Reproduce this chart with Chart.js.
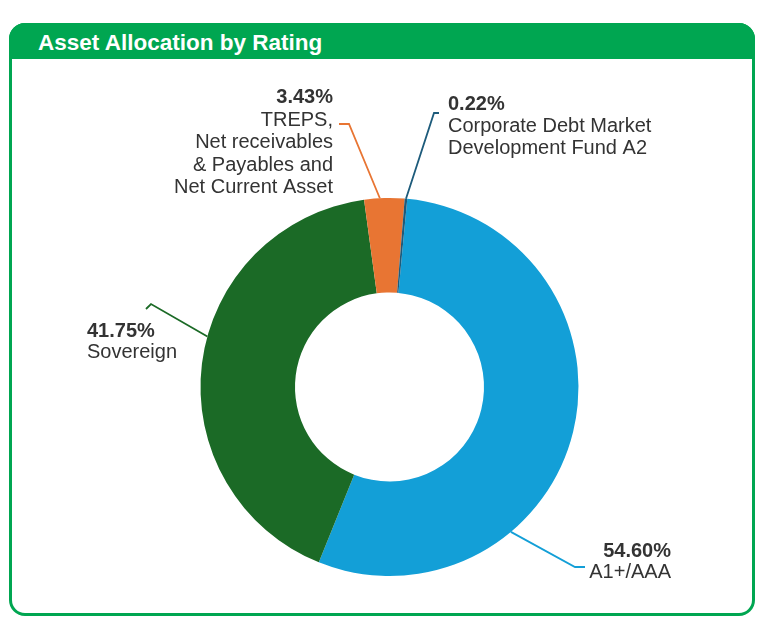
<!DOCTYPE html>
<html><head><meta charset="utf-8">
<script src="https://cdn.jsdelivr.net/npm/chart.js@4.4.0/dist/chart.umd.min.js"></script>
<style>
html,body{margin:0;padding:0;background:#fff;}
#wrap{position:relative;width:770px;height:621px;overflow:hidden;font-family:"Liberation Sans",Arial,sans-serif;}
#box{position:absolute;left:9px;top:23px;width:740px;height:587px;border:3px solid #00a651;border-radius:16px;}
#head{position:absolute;left:9px;top:23px;width:746px;height:36px;background:#00a651;border-radius:16px 16px 0 0;}
#title{position:absolute;left:38px;top:30px;color:#fff;font-weight:bold;font-size:22.5px;line-height:normal;white-space:nowrap;}
#c{position:absolute;left:0;top:0;}
</style></head>
<body><div id="wrap">
<div id="box"></div><div id="head"></div>
<div id="title">Asset Allocation by Rating</div>
<canvas id="c" width="770" height="621"></canvas>
</div>
<script>
const categories = ['A1+/AAA', 'Sovereign', 'TREPS, Net receivables & Payables and Net Current Asset', 'Corporate Debt Market Development Fund A2'];
const values = [54.60, 41.75, 3.43, 0.22];
const labelLines = [['A1+/AAA'], ['Sovereign'], ['TREPS,', 'Net receivables', '& Payables and', 'Net Current Asset'], ['Corporate Debt Market', 'Development Fund A2']];
const colors = ['#139fd7', '#1b6a26', '#e87533', '#1d5b7b'];

const callouts = [
  {f:0.685, elbow:[575,567], end:[585,567], tx:671, ty:557, align:'right', lh:21},
  {f:0.556, elbow:[151,304], end:[146,309], tx:87, ty:337, align:'left', lh:21},
  {f:0.39, elbow:[349,124], end:[339,124], tx:333, ty:103, align:'right', lh:22.6},
  {f:0.5, elbow:[434,113], end:[439,113], tx:448, ty:110, align:'left', lh:22}
];

const calloutPlugin = {
  id:'callouts',
  afterDatasetsDraw(chart){
    const ctx = chart.ctx;
    const meta = chart.getDatasetMeta(0);
    meta.data.forEach((arc, i) => {
      const c = callouts[i];
      const th = arc.startAngle + c.f * (arc.endAngle - arc.startAngle);
      const sx = arc.x + arc.outerRadius * Math.cos(th);
      const sy = arc.y + arc.outerRadius * Math.sin(th);
      ctx.save();
      ctx.strokeStyle = colors[i];
      ctx.lineWidth = 1.8;
      ctx.beginPath();
      ctx.moveTo(sx, sy);
      ctx.lineTo(c.elbow[0], c.elbow[1]);
      ctx.lineTo(c.end[0], c.end[1]);
      ctx.stroke();
      ctx.fillStyle = '#333333';
      ctx.textAlign = c.align;
      ctx.textBaseline = 'alphabetic';
      ctx.font = 'bold 20px "Liberation Sans", Arial, sans-serif';
      ctx.fillText(values[i].toFixed(2) + '%', c.tx, c.ty);
      ctx.font = '20px "Liberation Sans", Arial, sans-serif';
      labelLines[i].forEach((t, k) => ctx.fillText(t, c.tx, c.ty + c.lh * (k + 1)));
      ctx.restore();
    });
  }
};

new Chart(document.getElementById('c'), {
  type: 'doughnut',
  data: { labels: categories, datasets: [{ data: values, backgroundColor: colors, borderWidth: 0 }] },
  options: {
    responsive: false,
    animation: false,
    rotation: 5.4,
    cutout: '50%',
    layout: { padding: { top: 198, bottom: 45, left: 200, right: 191 } },
    plugins: { legend: { display: false }, tooltip: { enabled: false } }
  },
  plugins: [calloutPlugin]
});
</script>
</body></html>
